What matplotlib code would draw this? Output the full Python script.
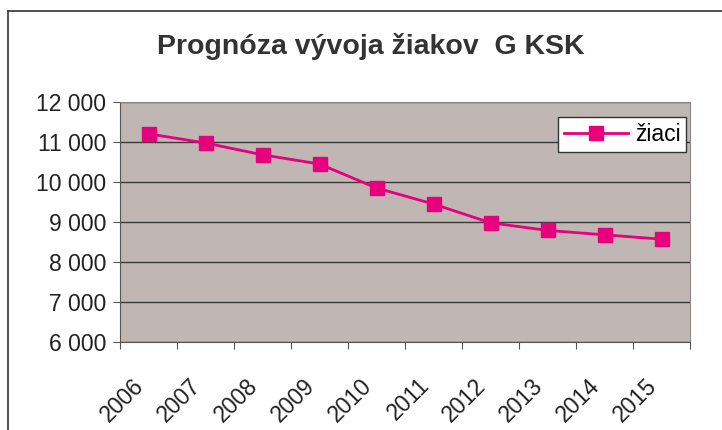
import matplotlib
matplotlib.use("Agg")
import matplotlib.pyplot as plt
from matplotlib.ticker import FuncFormatter, FixedLocator
from matplotlib.lines import Line2D
import matplotlib.transforms as mtransforms

years = ["2006", "2007", "2008", "2009", "2010", "2011", "2012", "2013", "2014", "2015"]
students = [11205, 10975, 10680, 10450, 9850, 9450, 8980, 8790, 8680, 8570]
series_name = "žiaci"
title = "Prognóza vývoja žiakov  G KSK"

plt.rcParams['font.family'] = ['Liberation Sans', 'DejaVu Sans']

fig = plt.figure(figsize=(7.22, 4.30), dpi=100)
ax = fig.add_axes([120/722, (430-342)/430, (690-120)/722, (342-102)/430])
ax.set_facecolor('#C0B7B4')

x = list(range(len(years)))
ax.plot(x, students, color='#E6007E', lw=2, marker='s', ms=10,
        markerfacecolor='#E6007E', markeredgecolor='#E6007E', label=series_name, zorder=3)

ax.set_xlim(-0.5, len(years) - 0.5)
ax.set_ylim(6000, 12000)
ax.set_yticks(range(6000, 12001, 1000))
ax.yaxis.set_major_formatter(FuncFormatter(lambda v, p: f"{int(v):,}".replace(",", " ")))
ax.grid(axis='y', color='#3a3a3a', lw=1)
ax.set_axisbelow(True)

ax.set_xticks([i - 0.5 for i in range(len(years) + 1)])
ax.set_xticklabels([])
ax.xaxis.set_minor_locator(FixedLocator(x))
ax.set_xticklabels(years, minor=True, rotation=45, ha='right', rotation_mode='anchor', fontsize=16.5, color='#222222')
ax.tick_params(axis='x', which='minor', length=0, pad=0)
offset = mtransforms.ScaledTranslation(-16/100, -32/100, fig.dpi_scale_trans)
for lab in ax.xaxis.get_minorticklabels():
    lab.set_transform(lab.get_transform() + offset)
ax.tick_params(axis='x', which='major', length=5, color='#555555')
ax.tick_params(axis='y', length=5, color='#555555', labelsize=16.5, labelcolor='#222222', pad=5)

for s in ['top', 'right']:
    ax.spines[s].set_visible(True)
    ax.spines[s].set_color('#888888')
ax.spines['left'].set_color('#555555')
ax.spines['bottom'].set_color('#555555')

leg = ax.legend(loc='upper right', bbox_to_anchor=(0.997, 0.945), fontsize=16.5, frameon=True,
                fancybox=False, edgecolor='#333333', framealpha=1, handlelength=2.8,
                borderpad=0.25, handletextpad=0.3, borderaxespad=0.1)
leg.get_frame().set_linewidth(1)

fig.text(371/722, 1 - 46/430, title, ha='center', va='center', fontsize=20.5, fontweight='bold', color='#333333')

# chart border (left and top visible)
fig.add_artist(Line2D([8/722, 8/722], [0, 1 - 11/430], color='#333333', lw=1.2, transform=fig.transFigure))
fig.add_artist(Line2D([8/722, 1], [1 - 11/430, 1 - 11/430], color='#333333', lw=1.2, transform=fig.transFigure))

fig.savefig("out.png", dpi=100)
